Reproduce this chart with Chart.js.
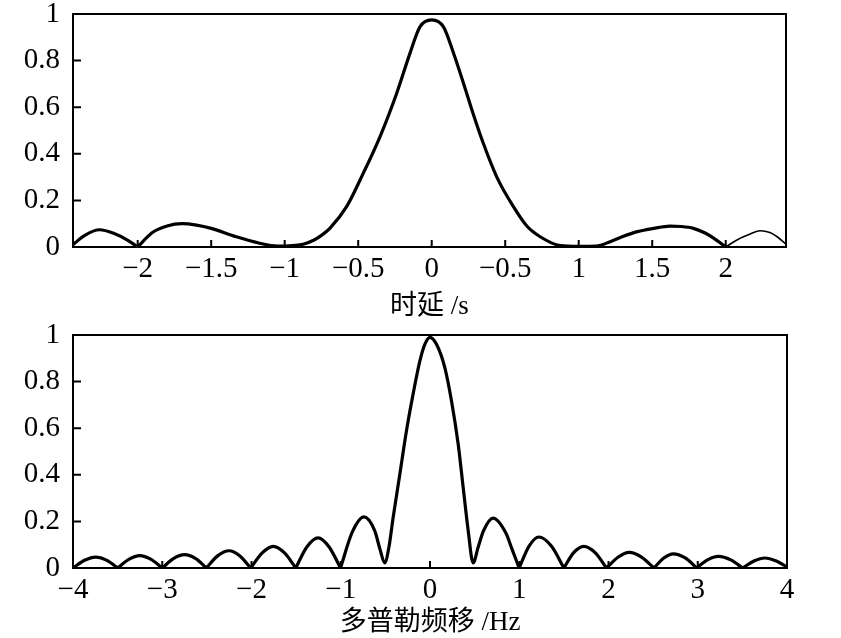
<!DOCTYPE html>
<html>
<head>
<meta charset="utf-8">
<script src="https://cdn.jsdelivr.net/npm/chart.js@4/dist/chart.umd.min.js"></script>
<style>
  html, body { margin: 0; padding: 0; background: #fff; }
  canvas { display: block; }
</style>
</head>
<body>
<canvas id="top" width="841" height="320"></canvas>
<canvas id="bottom" width="841" height="318"></canvas>
<script>
// ---- Data ----
// Top panel: cut along time delay (s)
const delayX = [-2.44, -2.36, -2.26, -2.16, -2.07, -2.0, -1.9, -1.8, -1.7, -1.6, -1.5, -1.33, -1.17, -1.05, -0.875, -0.8, -0.75, -0.693, -0.579, -0.466, -0.352, -0.238, -0.148, -0.08, 0,
                0.08, 0.147, 0.215, 0.283, 0.351, 0.443, 0.556, 0.647, 0.738, 0.874, 1.0, 1.12, 1.215, 1.30, 1.40, 1.51, 1.62, 1.70, 1.78, 1.86, 1.92, 2.0];
const delayY = [0.01, 0.05, 0.074, 0.058, 0.03, 0, 0.062, 0.09, 0.10, 0.094, 0.08, 0.044, 0.016, 0.004, 0.012, 0.03, 0.05, 0.08, 0.173, 0.316, 0.473, 0.66, 0.831, 0.945, 0.975,
                0.945, 0.835, 0.705, 0.57, 0.445, 0.30, 0.173, 0.09, 0.044, 0.006, 0.003, 0.004, 0.023, 0.045, 0.066, 0.08, 0.09, 0.088, 0.08, 0.06, 0.037, 0];
// thin tail segment beyond 2 s
const delayTailX = [2.0, 2.07, 2.145, 2.236, 2.30, 2.35, 2.41];
const delayTailY = [0, 0.028, 0.05, 0.07, 0.062, 0.044, 0.012];

// Bottom panel: cut along Doppler shift (Hz)
const dopplerX = [-4, -3.87, -3.746, -3.62, -3.5, -3.375, -3.253, -3.125, -3.0, -2.875, -2.75, -2.625, -2.506,
                  -2.38, -2.252, -2.13, -2.009, -1.88, -1.757, -1.63, -1.504, -1.38, -1.254, -1.13, -1.003,
                  -0.87, -0.739, -0.62, -0.56, -0.508, -0.46, -0.413, -0.339, -0.264, -0.19, -0.114, -0.058, 0,
                  0.073, 0.166, 0.241, 0.316, 0.372, 0.428, 0.483, 0.54, 0.6, 0.707, 0.85, 0.92, 0.999,
                  1.11, 1.22, 1.36, 1.5, 1.61, 1.724, 1.85, 1.978, 2.11, 2.232, 2.37, 2.509,
                  2.62, 2.725, 2.86, 2.987, 3.11, 3.23, 3.37, 3.503, 3.63, 3.753, 3.88, 4.0];
const dopplerY = [0, 0.033, 0.047, 0.033, 0, 0.037, 0.053, 0.037, 0, 0.04, 0.057, 0.04, 0,
                  0.052, 0.074, 0.052, 0, 0.065, 0.093, 0.065, 0, 0.09, 0.129, 0.09, 0,
                  0.155, 0.219, 0.16, 0.08, 0.022, 0.09, 0.217, 0.40, 0.588, 0.745, 0.888, 0.96, 0.99,
                  0.96, 0.86, 0.717, 0.531, 0.345, 0.16, 0.022, 0.09, 0.16, 0.214, 0.15, 0.08, 0,
                  0.094, 0.133, 0.094, 0, 0.066, 0.093, 0.066, 0, 0.047, 0.067, 0.047, 0,
                  0.043, 0.061, 0.043, 0, 0.035, 0.05, 0.035, 0, 0.03, 0.043, 0.03, 0.005];

// Tick values and labels
const delayTicks = [-2, -1.5, -1, -0.5, 0, 0.5, 1, 1.5, 2];
const delayTickLabels = ['\u22122', '\u22121.5', '\u22121', '\u22120.5', '0', '\u22120.5', '1', '1.5', '2'];
const dopplerTicks = [-4, -3, -2, -1, 0, 1, 2, 3, 4];
const dopplerTickLabels = ['\u22124', '\u22123', '\u22122', '\u22121', '0', '1', '2', '3', '4'];
const ampTicks = [0, 0.2, 0.4, 0.6, 0.8, 1];
const ampTickLabels = ['0', '0.2', '0.4', '0.6', '0.8', '1'];

const delayTitle = '时延 /s';
const dopplerTitle = '多普勒频移 /Hz';

// ---- Helpers ----
// interior zeros are cusps: break the monotone spline there (same point repeated around a gap)
function toPoints(xs, ys) {
  const pts = [];
  xs.forEach((x, i) => {
    pts.push({ x: x, y: ys[i] });
    if (ys[i] === 0 && i > 0 && i < xs.length - 1) {
      pts.push({ x: x, y: null });
      pts.push({ x: x, y: 0 });
    }
  });
  return pts;
}

const SERIF = "'Liberation Serif', 'Times New Roman', 'Noto Sans CJK SC', serif";

const framePlugin = {
  id: 'frameAndInnerTicks',
  afterDatasetsDraw(chart) {
    const { ctx, chartArea: a, scales } = chart;
    ctx.save();
    ctx.strokeStyle = '#000';
    ctx.lineWidth = 2;
    ctx.strokeRect(a.left, a.top, a.right - a.left, a.bottom - a.top);
    ctx.beginPath();
    scales.x.ticks.forEach(t => {
      const px = scales.x.getPixelForValue(t.value);
      ctx.moveTo(px, a.bottom);
      ctx.lineTo(px, a.bottom - 7);
    });
    scales.y.ticks.forEach(t => {
      const py = scales.y.getPixelForValue(t.value);
      ctx.moveTo(a.left, py);
      ctx.lineTo(a.left + 8, py);
    });
    ctx.stroke();
    ctx.restore();
  }
};

function makeChart(id, cfg) {
  const datasets = cfg.series.map(s => ({
    data: toPoints(s.x, s.y),
    borderColor: '#000',
    borderWidth: s.width,
    pointRadius: 0,
    cubicInterpolationMode: 'monotone',
    borderCapStyle: 'round',
    borderJoinStyle: 'round',
    spanGaps: false,
    fill: false
  }));
  return new Chart(document.getElementById(id), {
    type: 'line',
    data: { datasets },
    options: {
      responsive: false,
      animation: false,
      events: [],
      layout: { padding: { top: cfg.padTop, right: cfg.padRight, left: 0, bottom: 0 } },
      plugins: { legend: { display: false }, tooltip: { enabled: false } },
      scales: {
        x: {
          type: 'linear',
          min: cfg.xMin, max: cfg.xMax,
          grid: { display: false, drawTicks: false },
          border: { display: false },
          afterBuildTicks: sc => { sc.ticks = cfg.xTicks.map(v => ({ value: v })); },
          afterFit: sc => { sc.height = cfg.xHeight; sc.paddingLeft = 0; sc.paddingRight = 0; },
          ticks: {
            autoSkip: false, maxRotation: 0, padding: 5, color: '#000',
            font: { family: SERIF, size: 29 },
            callback: (v, i) => cfg.xLabels[i]
          },
          title: {
            display: true, text: cfg.title, color: '#000',
            font: { family: SERIF, size: 27, lineHeight: 1.0 },
            padding: { top: 0, bottom: cfg.titlePad }
          }
        },
        y: {
          type: 'linear', min: 0, max: 1,
          grid: { display: false, drawTicks: false },
          border: { display: false },
          afterBuildTicks: sc => { sc.ticks = ampTicks.map(v => ({ value: v })); },
          afterFit: sc => { sc.width = 73; sc.paddingTop = 0; sc.paddingBottom = 0; },
          ticks: {
            autoSkip: false, padding: 13, color: '#000',
            font: { family: SERIF, size: 29 },
            callback: (v, i) => ampTickLabels[i]
          }
        }
      }
    },
    plugins: [framePlugin]
  });
}

makeChart('top', {
  series: [ { x: delayX, y: delayY, width: 3.2 }, { x: delayTailX, y: delayTailY, width: 1.6 } ],
  xMin: -2.44, xMax: 2.41,
  xTicks: delayTicks, xLabels: delayTickLabels,
  title: delayTitle,
  padTop: 14, padRight: 55, xHeight: 73, titlePad: 0
});

makeChart('bottom', {
  series: [ { x: dopplerX, y: dopplerY, width: 3.2 } ],
  xMin: -4, xMax: 4,
  xTicks: dopplerTicks, xLabels: dopplerTickLabels,
  title: dopplerTitle,
  padTop: 15, padRight: 54, xHeight: 70, titlePad: 2
});
</script>
</body>
</html>
